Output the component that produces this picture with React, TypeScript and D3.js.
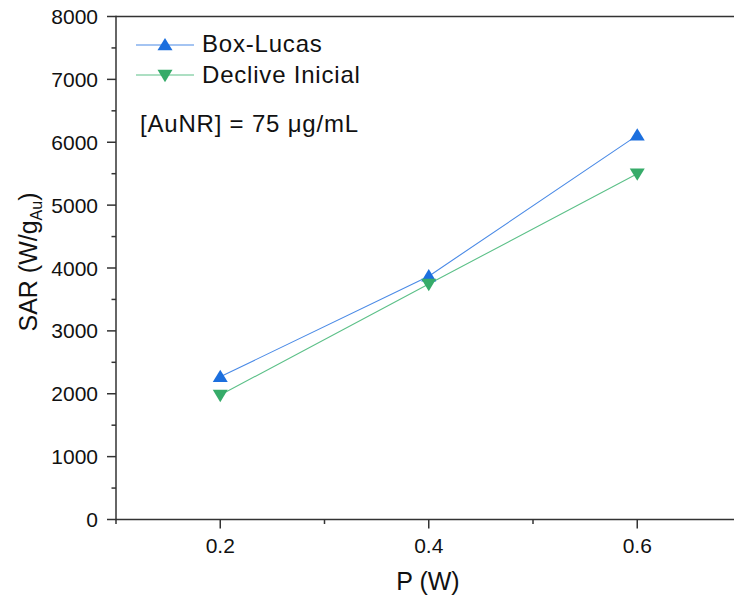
import React from "react";
import * as d3 from "d3";

const powers = [0.2, 0.4, 0.6];
const boxLucas = [2270, 3870, 6110];
const decliveInicial = [1980, 3745, 5500];
const xMajorTicks = [0.2, 0.4, 0.6];
const xMinorTicks = [0.1, 0.3, 0.5, 0.7];
const yMajorTicks = [0, 1000, 2000, 3000, 4000, 5000, 6000, 7000, 8000];
const yMinorTicks = [500, 1500, 2500, 3500, 4500, 5500, 6500, 7500];
const seriesNames = ["Box-Lucas", "Declive Inicial"];

const W = 734;
const H = 598;
const FONT = "'Liberation Sans', Arial, sans-serif";
const BLUE = "#1c6fde";
const BLUE_LINE = "#4a8ae6";
const GREEN = "#36ab69";
const GREEN_LINE = "#5cc088";
const AXIS = "#333";

export default function App() {
  const x = d3.scaleLinear().domain([0.1, 0.7]).range([116, 741.5]);
  const y = d3.scaleLinear().domain([0, 8000]).range([519.5, 16.5]);
  const line = d3
    .line<[number, number]>()
    .x((d) => x(d[0]))
    .y((d) => y(d[1]));
  const blueData = powers.map((p, i) => [p, boxLucas[i]] as [number, number]);
  const greenData = powers.map((p, i) => [p, decliveInicial[i]] as [number, number]);

  const up = (cx: number, cy: number, s = 7.5) =>
    `M${cx},${cy - s * 0.95} L${cx + s},${cy + s * 0.7} L${cx - s},${cy + s * 0.7} Z`;
  const down = (cx: number, cy: number, s = 7.5) =>
    `M${cx},${cy + s * 0.95} L${cx + s},${cy - s * 0.7} L${cx - s},${cy - s * 0.7} Z`;

  const x0 = x(0.1);
  const y0 = y(0);
  const yTop = y(8000);

  return (
    <svg
      width={W}
      height={H}
      style={{ position: "absolute", left: 0, top: 0, background: "#fff" }}
      fontFamily={FONT}
    >
      {/* lines */}
      <path d={line(blueData) || ""} fill="none" stroke={BLUE_LINE} strokeWidth={1.1} />
      <path d={line(greenData) || ""} fill="none" stroke={GREEN_LINE} strokeWidth={1.1} />
      {blueData.map((d, i) => (
        <path key={"b" + i} d={up(x(d[0]), y(d[1]))} fill={BLUE} />
      ))}
      {greenData.map((d, i) => (
        <path key={"g" + i} d={down(x(d[0]), y(d[1]))} fill={GREEN} />
      ))}

      {/* axes */}
      <line x1={x0} y1={yTop} x2={W} y2={yTop} stroke={AXIS} strokeWidth={1.5} />
      <line x1={x0} y1={yTop - 0.75} x2={x0} y2={y0 + 0.75} stroke={AXIS} strokeWidth={1.5} />
      <line x1={x0} y1={y0} x2={W} y2={y0} stroke={AXIS} strokeWidth={1.5} />

      {yMajorTicks.map((t) => (
        <g key={"ym" + t}>
          <line x1={x0 - 9} x2={x0} y1={y(t)} y2={y(t)} stroke={AXIS} strokeWidth={1.5} />
          <text x={98} y={y(t) + 7.5} textAnchor="end" fontSize={21} fill="#111">
            {t}
          </text>
        </g>
      ))}
      {yMinorTicks.map((t) => (
        <line key={"yn" + t} x1={x0 - 4.5} x2={x0} y1={y(t)} y2={y(t)} stroke={AXIS} strokeWidth={1.5} />
      ))}
      {xMajorTicks.map((t) => (
        <g key={"xm" + t}>
          <line x1={x(t)} x2={x(t)} y1={y0} y2={y0 + 9} stroke={AXIS} strokeWidth={1.5} />
          <text x={x(t)} y={553} textAnchor="middle" fontSize={21} fill="#111">
            {t.toFixed(1)}
          </text>
        </g>
      ))}
      {xMinorTicks.map((t) => (
        <line key={"xn" + t} x1={x(t)} x2={x(t)} y1={y0} y2={y0 + 4.5} stroke={AXIS} strokeWidth={1.5} />
      ))}

      {/* axis labels */}
      <text x={428} y={590} textAnchor="middle" fontSize={25} fill="#111">
        P (W)
      </text>
      <text
        transform="translate(37,262) rotate(-90)"
        textAnchor="middle"
        fontSize={25}
        fill="#111"
      >
        SAR (W/g
        <tspan fontSize={16} dy={5}>Au</tspan>
        <tspan dy={-5}>)</tspan>
      </text>

      {/* legend */}
      <line x1={136} x2={194} y1={45} y2={45} stroke={BLUE_LINE} strokeWidth={1.1} />
      <path d={up(165, 45)} fill={BLUE} />
      <text x={202} y={52} fontSize={24} letterSpacing={0.8} fill="#111">
        {seriesNames[0]}
      </text>
      <line x1={136} x2={194} y1={75} y2={75} stroke={GREEN_LINE} strokeWidth={1.1} />
      <path d={down(165, 75)} fill={GREEN} />
      <text x={202} y={83} fontSize={24} letterSpacing={0.8} fill="#111">
        {seriesNames[1]}
      </text>
      <text x={140} y={132} fontSize={24} letterSpacing={0.8} fill="#111">
        [AuNR] = 75 μg/mL
      </text>
    </svg>
  );
}
